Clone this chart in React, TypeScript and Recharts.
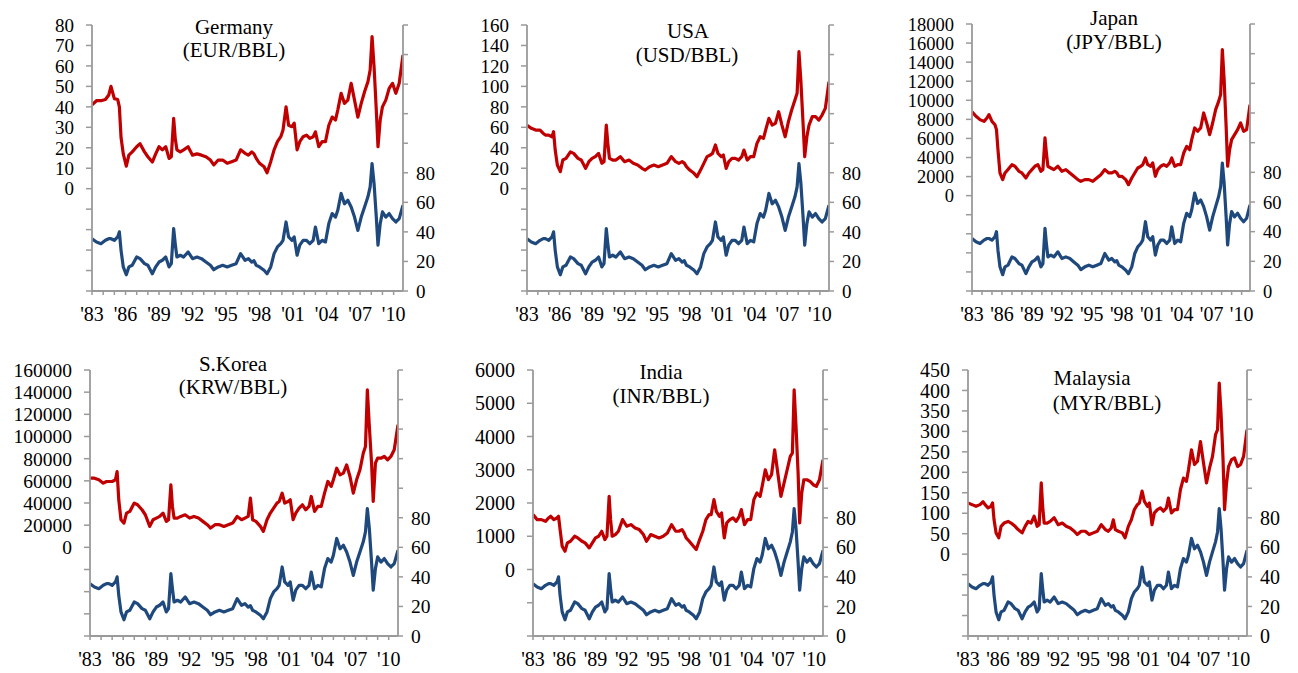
import React from 'react';
import { LineChart, Line, XAxis, YAxis } from 'recharts';

// Axis positions (years as placed on the time axis)
const YEARS = [
  1983.0, 1983.4, 1983.8, 1984.2, 1984.5, 1984.7, 1985.0, 1985.3, 1985.45, 1985.6,
  1985.8, 1986.07, 1986.3, 1986.6, 1987.0, 1987.3, 1987.7, 1988.0, 1988.4, 1988.7,
  1989.0, 1989.3, 1989.6, 1989.9, 1990.1, 1990.31, 1990.45, 1990.6, 1990.9, 1991.2,
  1991.6, 1992.0, 1992.4, 1992.8, 1993.2, 1993.6, 1993.9, 1994.3, 1994.7, 1995.1,
  1995.5, 1995.9, 1996.3, 1996.7, 1997.0, 1997.3, 1997.5, 1997.7, 1998.0, 1998.4,
  1998.67, 1999.0, 1999.3, 1999.6, 1999.9, 2000.1, 2000.37, 2000.6, 2000.9, 2001.1,
  2001.36, 2001.6, 2001.9, 2002.2, 2002.5, 2002.8, 2003.0, 2003.3, 2003.6, 2003.9,
  2004.2, 2004.5, 2004.8, 2005.0, 2005.3, 2005.6, 2005.9, 2006.2, 2006.5, 2006.8,
  2007.1, 2007.4, 2007.7, 2007.9, 2008.07, 2008.25, 2008.45, 2008.6, 2008.8, 2009.0,
  2009.3, 2009.6, 2009.9, 2010.2, 2010.5, 2010.84,
];

// Blue series (right axis, 0-80 labelled)
const BLUE = [
  35.4, 33.2, 32, 34.3, 35.4, 35.4, 34.3, 36.6, 40, 27.5,
  16.3, 11, 16.3, 17.4, 23, 21.9, 18.5, 17.4, 11.7, 16.3,
  19.6, 20.8, 23, 16.3, 18.5, 42.2, 32, 23, 24.2, 23,
  26.4, 21.9, 23, 21.9, 19.6, 17.4, 14.4, 16.3, 17.4, 16.3,
  17.4, 18.5, 25.3, 20.8, 21.9, 19.6, 20.5, 17.4, 16.3, 14,
  11.7, 16.3, 25.3, 29.8, 32, 34.3, 46.7, 36.6, 34.3, 36.6,
  24.2, 31, 34.3, 34.3, 32, 34.3, 43.3, 32, 34.3, 33.2,
  45.6, 52.4, 50, 54.6, 66, 59, 61.4, 56.9, 50, 41,
  50, 56.9, 63.7, 70.4, 86.2, 72.7, 50, 31, 45.6, 53.5,
  50, 52.4, 49, 46.7, 49, 58,
];

const GERMANY_EUR = [
  41, 43, 43, 43.6, 45.8, 50, 44, 43.6, 40, 25,
  17, 11, 16.4, 18, 20.5, 22, 18, 15.6, 13, 17,
  20.5, 19, 20.5, 14.8, 15.6, 34.4, 24.6, 19, 18, 19,
  20.5, 16.4, 17, 16.4, 15.6, 14, 11.6, 14, 14, 12.4,
  13.2, 14, 19, 17.3, 16.4, 18, 17, 14.8, 12.4, 10.7,
  7.8, 13.2, 19, 23, 25.4, 28.7, 40, 31, 30.3, 32,
  19, 23, 25.4, 26.2, 24.6, 25.4, 27.8, 20.5, 23, 23,
  31, 35, 33.6, 38.4, 46.6, 41.7, 43.3, 51.5, 43.3, 35,
  41.7, 47.4, 52.3, 58, 74.3, 59.6, 38.4, 20.5, 33.6, 40,
  43.3, 49, 51.5, 46.6, 51.5, 65.3,
];

const USA_USD = [
  62, 59, 57.3, 57.3, 54, 52.4, 52.4, 50.8, 55.7, 37.8,
  23, 16.6, 28, 29.6, 36, 34.5, 29.6, 28, 19.9, 26.4,
  29.6, 31.3, 34.5, 24.8, 26.4, 62.2, 44.3, 29.6, 28, 28,
  31.3, 26.4, 28, 24.8, 23.1, 19.9, 18.2, 21.5, 23.1, 21.5,
  23.1, 24.8, 31.3, 26.4, 24.8, 26.4, 25, 21.5, 18.2, 15,
  11.7, 18.2, 24.8, 31.3, 32.9, 34.5, 42.7, 34.5, 31.3, 32.9,
  19.9, 26.4, 29.6, 29.6, 28, 31.3, 37.8, 28, 31.3, 31.3,
  44.3, 50.8, 49.2, 57.3, 68.7, 62.2, 63.8, 75.2, 62.2, 50.8,
  65.5, 76.9, 86.6, 93.2, 133.9, 104.6, 63.8, 31.3, 50.8, 62.2,
  70.4, 70.4, 67.1, 72, 78.5, 104.6,
];

const JAPAN_JPY = [
  8800, 8320, 7970, 7790, 8140, 8490, 7790, 7440, 6920, 4820,
  2380, 1680, 2380, 2730, 3250, 3080, 2550, 2380, 1850, 2380,
  2730, 3080, 3250, 2550, 2730, 6050, 4470, 3080, 2900, 2730,
  3080, 2550, 2730, 2380, 2030, 1680, 1500, 1680, 1680, 1500,
  1850, 2200, 2730, 2380, 2380, 2550, 2400, 2030, 2030, 1680,
  1150, 1850, 2380, 2900, 3080, 3250, 3950, 3250, 3080, 3430,
  2030, 2730, 3080, 3250, 3080, 3430, 3950, 3080, 3250, 3250,
  4470, 5170, 4820, 5870, 7100, 6750, 7100, 8670, 7620, 6400,
  7620, 9020, 9890, 10590, 15310, 12160, 7270, 3080, 4820, 5870,
  6400, 6920, 7620, 6750, 6920, 9540,
];

const KOREA_KRW = [
  62400, 62400, 60900, 57900, 59400, 59400, 59400, 60900, 68400, 42900,
  24900, 21900, 30900, 32400, 39900, 38400, 33900, 29400, 18900, 24900,
  26400, 27900, 30900, 23400, 24900, 56400, 36900, 26400, 26400, 27900,
  29400, 26400, 27900, 26400, 23400, 20400, 17400, 20400, 20400, 18900,
  20400, 21900, 27900, 24900, 26400, 27900, 44400, 24900, 23400, 18900,
  14400, 24900, 30900, 35400, 39900, 41400, 48900, 39900, 41400, 42900,
  24900, 30900, 35400, 38400, 33900, 36900, 45900, 32400, 36900, 36900,
  48900, 59400, 54900, 60900, 71400, 65400, 66900, 74400, 63900, 48900,
  60900, 69900, 84900, 90900, 142000, 109000, 75900, 41400, 75900, 80400,
  80400, 82000, 78900, 82000, 88000, 110500,
];

const INDIA_INR = [
  1650, 1500, 1500, 1450, 1550, 1600, 1500, 1550, 1600, 1200,
  700, 550, 800, 850, 1000, 950, 850, 800, 650, 800,
  950, 1000, 1150, 900, 1000, 2200, 1500, 1000, 1050, 1150,
  1500, 1300, 1350, 1250, 1200, 1050, 850, 1050, 1000, 950,
  1000, 1100, 1350, 1150, 1150, 1200, 1100, 950, 850, 700,
  600, 900, 1150, 1500, 1650, 1650, 2100, 1750, 1600, 1700,
  950, 1400, 1500, 1550, 1450, 1600, 1800, 1350, 1500, 1500,
  2100, 2300, 2200, 2500, 3000, 2700, 2850, 3600, 2900, 2200,
  2600, 3000, 3400, 3500, 5400, 4300, 2900, 1400, 2300, 2700,
  2700, 2650, 2550, 2500, 2700, 3300,
];

const MALAYSIA_MYR = [
  125, 121, 117, 121, 128, 121, 113, 117, 125, 84,
  52, 40, 68, 76, 80, 76, 68, 60, 52, 68,
  80, 76, 93, 68, 72, 174, 117, 76, 76, 80,
  89, 72, 76, 68, 64, 56, 48, 56, 56, 48,
  52, 56, 72, 60, 56, 64, 84, 60, 56, 52,
  40, 68, 84, 109, 121, 125, 154, 129, 117, 125,
  72, 101, 109, 113, 105, 113, 137, 101, 109, 109,
  158, 186, 178, 206, 255, 219, 227, 275, 223, 174,
  210, 239, 292, 304, 418, 344, 231, 109, 174, 214,
  231, 235, 214, 219, 239, 304,
];

const FONT = '"Liberation Serif", "Times New Roman", serif';
const AXIS_GRAY = '#9a9a9a';
const RED = '#C00000';
const BLUE_C = '#1F497D';

function range(a: number, b: number, s: number): number[] {
  const r: number[] = [];
  for (let i = 0; a + i * s <= b + 1e-9; i++) r.push(Math.round((a + i * s) * 1000) / 1000);
  return r;
}

const X_TICKS = range(1983, 2010, 1);
const RIGHT_TICKS = range(0, 180, 20);
const X_END = 2010.84;

const LEFT_AREA = 100;
const RIGHT_AREA = 60;
const TOP_PAD = 10;
const BOTTOM_AREA = 45;

type PanelCfg = {
  red: number[];
  min: number;
  max: number;
  step: number;
  x0: number;
  x1: number;
  y0: number;
  y1: number;
  font: number;
};

const PANELS: PanelCfg[] = [
  { red: GERMANY_EUR, min: -50, max: 80, step: 10, x0: 91.7, x1: 402.7, y0: 25, y1: 290.7, font: 19 },
  { red: USA_USD, min: -100, max: 160, step: 20, x0: 526.7, x1: 828.5, y0: 25, y1: 290.7, font: 19 },
  { red: JAPAN_JPY, min: -10000, max: 18000, step: 2000, x0: 971.7, x1: 1250, y0: 24.3, y1: 291, font: 18.5 },
  { red: KOREA_KRW, min: -80000, max: 160000, step: 20000, x0: 90, x1: 397.7, y0: 370, y1: 636, font: 19.5 },
  { red: INDIA_INR, min: -2000, max: 6000, step: 1000, x0: 532.7, x1: 822.7, y0: 370, y1: 636, font: 20 },
  { red: MALAYSIA_MYR, min: -200, max: 450, step: 50, x0: 967.7, x1: 1246.5, y0: 370, y1: 636, font: 20 },
];

const TITLES: { text: string; x: number; y: number }[] = [
  { text: 'Germany', x: 234, y: 33.5 },
  { text: '(EUR/BBL)', x: 234, y: 57 },
  { text: 'USA', x: 688, y: 38 },
  { text: '(USD/BBL)', x: 687, y: 61.5 },
  { text: 'Japan', x: 1114, y: 25 },
  { text: '(JPY/BBL)', x: 1114, y: 49 },
  { text: 'S.Korea', x: 233, y: 370.5 },
  { text: '(KRW/BBL)', x: 233, y: 393.5 },
  { text: 'India', x: 661, y: 378.5 },
  { text: '(INR/BBL)', x: 661, y: 403 },
  { text: 'Malaysia', x: 1092, y: 385 },
  { text: '(MYR/BBL)', x: 1107, y: 410 },
];

function Panel({ p }: { p: PanelCfg }) {
  const data = YEARS.map((t, i) => ({ t, red: p.red[i], blue: BLUE[i] }));
  const w = Math.round(p.x1 - p.x0 + LEFT_AREA + RIGHT_AREA);
  const h = Math.round(p.y1 - p.y0 + TOP_PAD + BOTTOM_AREA);
  const leftTicks = range(p.min, p.max, p.step);
  const tickStyle = { fontFamily: FONT, fontSize: p.font, fill: '#000' };
  return (
    <div style={{ position: 'absolute', left: p.x0 - LEFT_AREA, top: p.y0 - TOP_PAD }}>
      <LineChart width={w} height={h} data={data} margin={{ top: TOP_PAD, right: 0, bottom: 0, left: 0 }}>
        <XAxis
          dataKey="t"
          type="number"
          domain={[1983, X_END]}
          allowDataOverflow
          ticks={X_TICKS}
          interval={0}
          height={BOTTOM_AREA}
          tickSize={4}
          tickMargin={12}
          tickFormatter={(v: number) => ((Math.round(v) - 1983) % 3 === 0 ? "'" + String(Math.round(v)).slice(2) : '')}
          axisLine={{ stroke: AXIS_GRAY, strokeWidth: 1.8 }}
          tickLine={{ stroke: AXIS_GRAY, strokeWidth: 1.5 }}
          tick={{ fontFamily: FONT, fontSize: 20, fill: '#000' }}
        />
        <YAxis
          yAxisId="l"
          orientation="left"
          width={LEFT_AREA}
          type="number"
          domain={[p.min, p.max]}
          allowDataOverflow
          ticks={leftTicks}
          interval={0}
          tickSize={6}
          tickMargin={12}
          tickFormatter={(v: number) => (v >= 0 ? String(v) : '')}
          axisLine={{ stroke: AXIS_GRAY, strokeWidth: 1.8 }}
          tickLine={{ stroke: AXIS_GRAY, strokeWidth: 1.5 }}
          tick={tickStyle}
        />
        <YAxis
          yAxisId="r"
          orientation="right"
          width={RIGHT_AREA}
          type="number"
          domain={[0, 180]}
          allowDataOverflow
          ticks={RIGHT_TICKS}
          interval={0}
          tickSize={5}
          tickMargin={8}
          tickFormatter={(v: number) => (v <= 80 ? String(v) : '')}
          axisLine={{ stroke: AXIS_GRAY, strokeWidth: 1.8 }}
          tickLine={{ stroke: AXIS_GRAY, strokeWidth: 1.5 }}
          tick={tickStyle}
        />
        <Line yAxisId="r" type="linear" dataKey="blue" stroke={BLUE_C} strokeWidth={3.2} strokeLinejoin="round" dot={false} isAnimationActive={false} />
        <Line yAxisId="l" type="linear" dataKey="red" stroke={RED} strokeWidth={3.2} strokeLinejoin="round" dot={false} isAnimationActive={false} />
      </LineChart>
    </div>
  );
}

export default function App() {
  return (
    <div style={{ position: 'absolute', left: 0, top: 0, width: 1298, height: 673, background: '#fff', overflow: 'hidden' }}>
      {PANELS.map((p, i) => (
        <Panel key={i} p={p} />
      ))}
      <svg width={1298} height={673} style={{ position: 'absolute', left: 0, top: 0, pointerEvents: 'none' }}>
        {TITLES.map((t, i) => (
          <text key={i} x={t.x} y={t.y} textAnchor="middle" fontFamily={FONT} fontSize={21} fill="#000">
            {t.text}
          </text>
        ))}
      </svg>
    </div>
  );
}
